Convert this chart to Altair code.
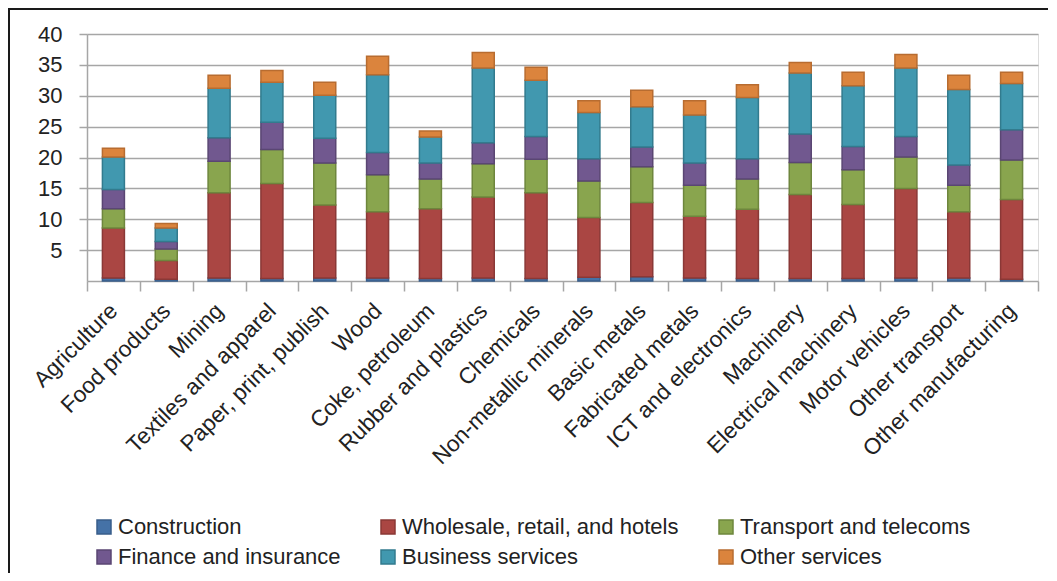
import altair as alt
import pandas as pd

categories = ["Agriculture", "Food products", "Mining", "Textiles and apparel",
              "Paper, print, publish", "Wood", "Coke, petroleum", "Rubber and plastics",
              "Chemicals", "Non-metallic minerals", "Basic metals", "Fabricated metals",
              "ICT and electronics", "Machinery", "Electrical machinery", "Motor vehicles",
              "Other transport", "Other manufacturing"]

series = ["Construction", "Wholesale, retail, and hotels", "Transport and telecoms",
          "Finance and insurance", "Business services", "Other services"]

construction = [0.5, 0.3, 0.5, 0.4, 0.5, 0.5, 0.4, 0.5, 0.4, 0.6, 0.7, 0.5, 0.4, 0.4, 0.4, 0.5, 0.5, 0.3]
wholesale = [8.1, 3.0, 13.8, 15.4, 11.8, 10.7, 11.3, 13.1, 13.9, 9.7, 12.0, 10.0, 11.2, 13.6, 12.0, 14.5, 10.7, 12.9]
transport = [3.1, 1.9, 5.1, 5.5, 6.8, 6.0, 4.8, 5.4, 5.4, 5.9, 5.8, 5.0, 4.9, 5.2, 5.6, 5.1, 4.3, 6.4]
finance = [3.1, 1.2, 3.8, 4.4, 4.0, 3.6, 2.6, 3.4, 3.7, 3.6, 3.2, 3.6, 3.3, 4.6, 3.8, 3.3, 3.3, 4.9]
business = [5.3, 2.2, 8.0, 6.5, 7.0, 12.6, 4.2, 12.1, 9.1, 7.5, 6.5, 7.8, 9.9, 9.9, 9.8, 11.1, 12.2, 7.5]
other = [1.4, 0.7, 2.1, 1.9, 2.1, 3.0, 1.0, 2.5, 2.1, 1.9, 2.7, 2.3, 2.1, 1.7, 2.2, 2.2, 2.3, 1.8]

y_ticks = [5, 10, 15, 20, 25, 30, 35, 40]

fill_colors = ["#4572A7", "#AA4643", "#89A54E", "#71588F", "#4198AF", "#DB843D"]
stroke_colors = ["#385D8A", "#8A3836", "#6E863D", "#5A4673", "#327B8E", "#B86C30"]

all_values = [construction, wholesale, transport, finance, business, other]
rows = []
for si, (name, vals) in enumerate(zip(series, all_values)):
    for ci, cat in enumerate(categories):
        rows.append({"sector": cat, "series": name, "value": vals[ci], "order": si})
df = pd.DataFrame(rows)

FONT = "Liberation Sans"

legend_kw = dict(orient="none", legendX=6, legendY=482, columns=3,
                 direction="horizontal", symbolType="square",
                 symbolSize=196, symbolStrokeWidth=1.5,
                 labelFontSize=22, labelFont=FONT, labelColor="#222222",
                 labelOffset=3, columnPadding=36, rowPadding=8,
                 padding=0, labelLimit=0)

bars = alt.Chart(df).mark_bar(size=22, strokeWidth=1.5).encode(
    x=alt.X("sector:N", sort=categories, title=None,
            scale=alt.Scale(paddingInner=0, paddingOuter=0),
            axis=alt.Axis(labelAngle=315, labelAlign="right", labelBaseline="middle",
                          labelPadding=16, labelLimit=0, labelOverlap=False,
                          tickBand="extent", tickSize=10, ticks=True,
                          tickColor="#A6A6A6", tickWidth=1.5,
                          domainColor="#A6A6A6", domainWidth=1.5,
                          labelFontSize=22.5, labelColor="#222222", labelFont=FONT,
                          grid=False)),
    y=alt.Y("value:Q", stack="zero", title=None,
            scale=alt.Scale(domain=[0, 40], nice=False),
            axis=alt.Axis(values=y_ticks, tickSize=8, tickColor="#A6A6A6", tickWidth=1.5,
                          domainColor="#A6A6A6", domainWidth=1.5,
                          gridColor="#A6A6A6", gridWidth=1.5, grid=True,
                          labelPadding=17, labelFontSize=22, labelColor="#222222",
                          labelFont=FONT)),
    fill=alt.Fill("series:N", sort=series, title=None,
                  scale=alt.Scale(domain=series, range=fill_colors),
                  legend=alt.Legend(**legend_kw)),
    stroke=alt.Stroke("series:N", sort=series, title=None,
                      scale=alt.Scale(domain=series, range=stroke_colors),
                      legend=alt.Legend(**legend_kw)),
    order=alt.Order("order:Q", sort="ascending"),
)

frame_df = pd.DataFrame({"k": [0]})
frame_top = alt.Chart(frame_df).mark_rule(color="#1a1a1a", strokeWidth=2).encode(
    x=alt.value(-79), x2=alt.value(961), y=alt.value(-25))
frame_left = alt.Chart(frame_df).mark_rule(color="#1a1a1a", strokeWidth=2).encode(
    x=alt.value(-78), y=alt.value(-26), y2=alt.value(539))

chart = alt.layer(frame_top, frame_left, bars).properties(
    width=951, height=247,
    autosize=alt.AutoSizeParams(type="none"),
    padding={"left": 79, "top": 26, "right": 10, "bottom": 292},
).configure_view(stroke=None).configure(background="white")

chart.save("out.html", embed_options={"renderer": "svg", "actions": False})
